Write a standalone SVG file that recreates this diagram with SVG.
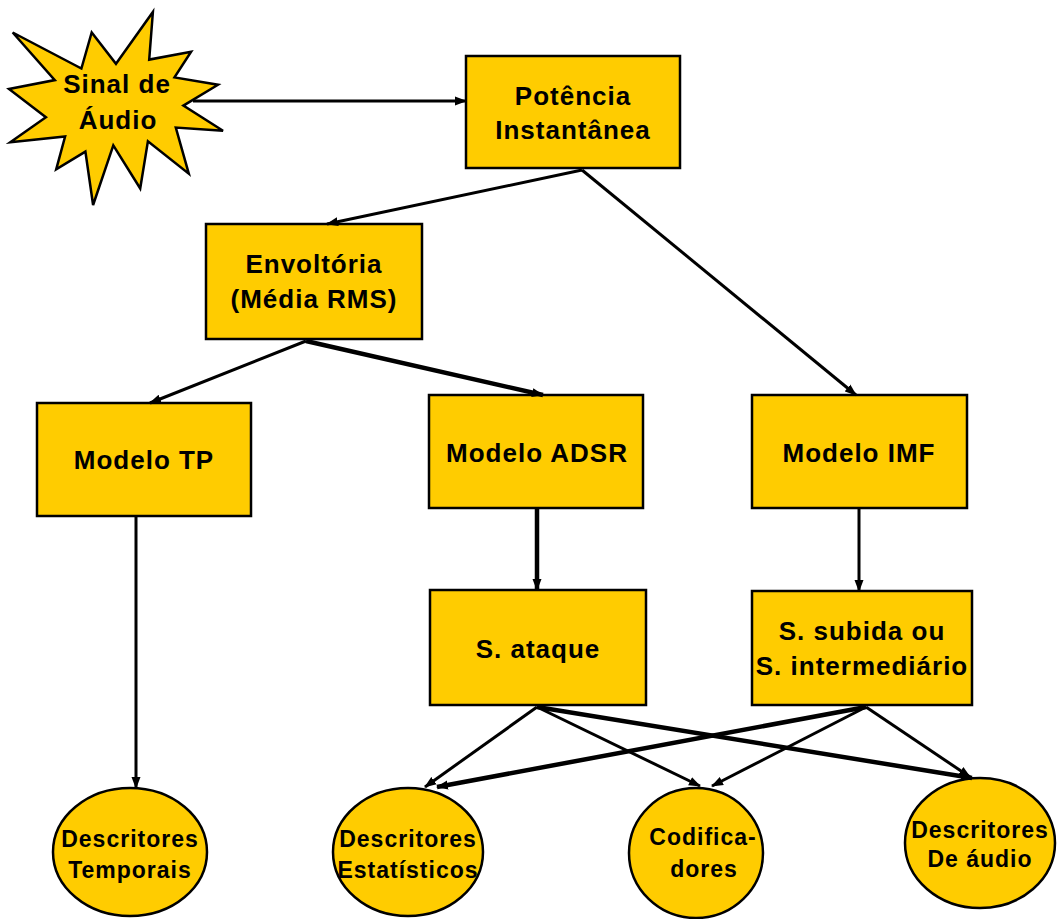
<svg xmlns="http://www.w3.org/2000/svg" width="1057" height="919" viewBox="0 0 1057 919">
  <style>
    .shape { fill: #FFCC00; stroke: #000000; stroke-width: 2.5; }
    .lbl { font-family: "Liberation Sans", Arial, sans-serif; font-weight: bold; font-size: 26px; letter-spacing: 1px; fill: #000000; text-anchor: middle; }
    .small { font-size: 23px; letter-spacing: 1px; }
    .edge { stroke: #000000; stroke-width: 3; fill: none; marker-end: url(#arrow); }
    .heavy { stroke-width: 4.5; }
  </style>
  <defs>
    <marker id="arrow" markerUnits="userSpaceOnUse" markerWidth="12" markerHeight="10" refX="11" refY="5" orient="auto">
      <path d="M0,0.5 L12,5 L0,9.5 z" fill="#000000"/>
    </marker>
  </defs>
  <rect width="1057" height="919" fill="#FFFFFF"/>

  <!-- source: explosion shape -->
  <g id="sinal-audio">
    <polygon class="shape" points="116,63.8 152.9,12 149.2,59.6 191.1,51.8 174.5,77.4 218,84.7 183.4,105.6 223,130.7 175.8,127.6 188.8,173.7 147.9,141.2 140.2,188.4 113.3,145.4 93.1,205 85.4,151.6 56.2,169.4 65.1,136.5 10.3,142.3 45.9,117.2 9,89 54.8,80.1 12.7,32.5 81.4,68.5 91.7,32.5"/>
    <text class="lbl" x="117" y="93">Sinal de</text>
    <text class="lbl" x="118" y="129">Áudio</text>
  </g>

  <g id="potencia">
    <rect class="shape" x="466" y="56" width="214" height="112"/>
    <text class="lbl" x="573" y="105">Potência</text>
    <text class="lbl" x="573" y="139">Instantânea</text>
  </g>

  <g id="envoltoria">
    <rect class="shape" x="206" y="224" width="216" height="115"/>
    <text class="lbl" x="314" y="273">Envoltória</text>
    <text class="lbl" x="314" y="308">(Média RMS)</text>
  </g>

  <g id="modelo-tp">
    <rect class="shape" x="37" y="403" width="214" height="113"/>
    <text class="lbl" x="144" y="469">Modelo TP</text>
  </g>

  <g id="modelo-adsr">
    <rect class="shape" x="429" y="395" width="214" height="113"/>
    <text class="lbl" x="537" y="462">Modelo ADSR</text>
  </g>

  <g id="modelo-imf">
    <rect class="shape" x="752" y="395" width="215" height="113"/>
    <text class="lbl" x="859" y="462">Modelo IMF</text>
  </g>

  <g id="s-ataque">
    <rect class="shape" x="430" y="590" width="216" height="115"/>
    <text class="lbl" x="538" y="658">S. ataque</text>
  </g>

  <g id="s-subida">
    <rect class="shape" x="752" y="591" width="220" height="114"/>
    <text class="lbl" x="862" y="640">S. subida ou</text>
    <text class="lbl" x="862" y="675">S. intermediário</text>
  </g>

  <g id="desc-temporais">
    <ellipse class="shape" cx="130" cy="852" rx="77" ry="64"/>
    <text class="lbl small" x="130" y="847">Descritores</text>
    <text class="lbl small" x="130" y="878">Temporais</text>
  </g>

  <g id="desc-estatisticos">
    <ellipse class="shape" cx="408" cy="852" rx="75" ry="64"/>
    <text class="lbl small" x="408" y="847">Descritores</text>
    <text class="lbl small" x="408" y="878">Estatísticos</text>
  </g>

  <g id="codificadores">
    <ellipse class="shape" cx="696" cy="853" rx="67" ry="65"/>
    <text class="lbl small" x="703" y="845">Codifica-</text>
    <text class="lbl small" x="704" y="877">dores</text>
  </g>

  <g id="desc-audio">
    <ellipse class="shape" cx="980" cy="843" rx="75" ry="65"/>
    <text class="lbl small" x="980" y="838">Descritores</text>
    <text class="lbl small" x="980" y="867">De áudio</text>
  </g>

  <g id="connectors">
    <line class="edge" x1="193" y1="101" x2="466" y2="101"/>
    <line class="edge" x1="582" y1="170" x2="327" y2="224"/>
    <line class="edge" x1="582" y1="170" x2="856" y2="395"/>
    <line class="edge" x1="306" y1="341" x2="150" y2="403"/>
    <line class="edge heavy" x1="306" y1="341" x2="543" y2="395"/>
    <line class="edge" x1="136" y1="517" x2="136" y2="788"/>
    <line class="edge heavy" x1="537" y1="508" x2="537" y2="590"/>
    <line class="edge" x1="859" y1="508" x2="859" y2="591"/>
    <line class="edge" x1="537" y1="707" x2="425" y2="787"/>
    <line class="edge" x1="537" y1="707" x2="700" y2="786"/>
    <line class="edge heavy" x1="537" y1="707" x2="972" y2="778"/>
    <line class="edge heavy" x1="866" y1="707" x2="437" y2="787"/>
    <line class="edge" x1="866" y1="707" x2="712" y2="786"/>
    <line class="edge" x1="866" y1="707" x2="970" y2="777"/>
  </g>
</svg>
